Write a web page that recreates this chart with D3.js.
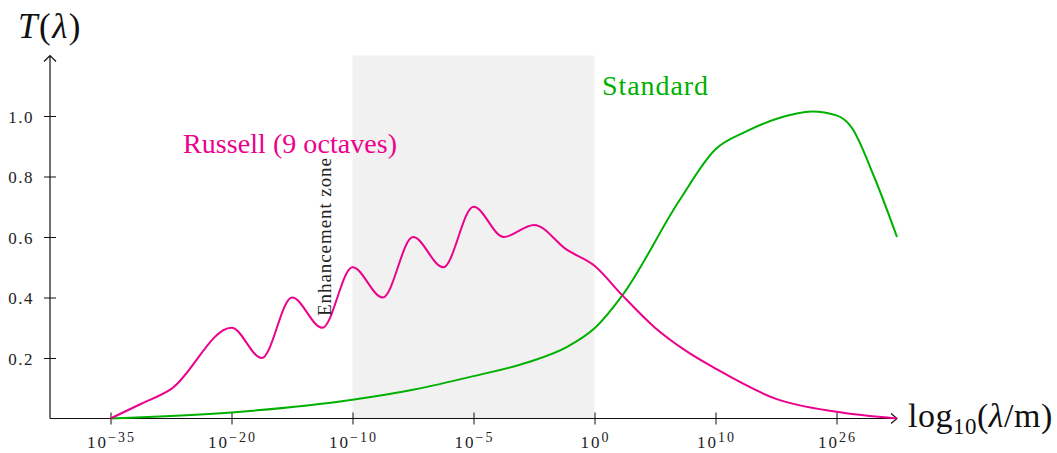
<!DOCTYPE html>
<html>
<head>
<meta charset="utf-8">
<script src="https://cdn.jsdelivr.net/npm/d3@7"></script>
<style>
  html, body { margin: 0; padding: 0; background: #fff; }
  svg { display: block; font-family: "Liberation Serif", serif; }
</style>
</head>
<body>
<svg id="chart" width="1057" height="453"></svg>
<script>
// x positions are the evenly spaced tick slots (0..6), labels below
const tickExponents = [-35, -20, -10, -5, 0, 10, 26];
const yTicks = [0.2, 0.4, 0.6, 0.8, 1.0];

// Russell (9 octaves): [slot, T]
const russell = [
  [0, 0], [0.25, 0.048], [0.5, 0.097], [1, 0.3], [1.25, 0.2], [1.5, 0.4],
  [1.75, 0.3], [2, 0.5], [2.25, 0.4], [2.5, 0.6], [2.75, 0.5], [3, 0.7],
  [3.25, 0.6], [3.5, 0.64], [3.77, 0.558], [4, 0.505], [4.23, 0.407],
  [4.5, 0.3], [4.75, 0.225], [5, 0.165], [5.5, 0.065], [6, 0.022], [6.5, 0]
];

// Standard: [slot, T]
const standard = [
  [0, 0], [1, 0.02], [2, 0.062], [2.5, 0.095], [3, 0.14], [3.45, 0.186],
  [3.77, 0.236], [4, 0.298], [4.23, 0.407], [4.7, 0.72],
  [5, 0.89], [5.25, 0.948], [5.5, 0.99], [5.8, 1.015], [6, 1.002],
  [6.12, 0.965], [6.31, 0.8], [6.5, 0.6]
];

// shaded "enhancement zone" in slot units
const zone = [2, 4];

const pink = '#ec008c';
const green = '#00b000';

const svg = d3.select('#chart');

const x = d3.scaleLinear().domain([0, 6]).range([110.5, 836.5]);
const y = d3.scaleLinear().domain([0, 1.2]).range([418.5, 55.5]);

const x0 = x(-0.5), x1 = x(6.5);
const y0 = y(0), y1 = y(1.2);

// Shaded zone
svg.append('rect')
  .attr('x', x(zone[0]))
  .attr('y', y1)
  .attr('width', x(zone[1]) - x(zone[0]))
  .attr('height', y0 - y1)
  .attr('fill', '#f1f1f1');

// X axis
const xAxis = svg.append('g')
  .attr('transform', `translate(0,${y0})`)
  .call(d3.axisBottom(x).tickValues(d3.range(tickExponents.length)).tickFormat('').tickSize(6));
xAxis.select('.domain').remove();
xAxis.selectAll('.tick line').attr('y1', -6).attr('y2', 6).attr('stroke', '#111');

const xl = svg.append('g').attr('fill', '#222');
tickExponents.forEach((e, i) => {
  const t = xl.append('text')
    .attr('x', x(i) + 1)
    .attr('y', 448)
    .attr('text-anchor', 'middle')
    .style('font-size', '17px')
    .style('letter-spacing', '2px');
  t.append('tspan').text('10');
  t.append('tspan')
    .attr('dy', -6)
    .style('font-size', '14px')
    .style('letter-spacing', '2px')
    .text(e < 0 ? '\u2212' + Math.abs(e) : String(e));
});

// Y axis
const yAxis = svg.append('g')
  .attr('transform', `translate(${x0},0)`)
  .call(d3.axisLeft(y).tickValues(yTicks).tickFormat(d3.format('.1f')).tickSize(6));
yAxis.select('.domain').remove();
yAxis.selectAll('.tick line').attr('x1', -6).attr('x2', 6).attr('stroke', '#111');
yAxis.selectAll('.tick text')
  .attr('x', -16)
  .attr('dy', '0.36em')
  .attr('fill', '#222')
  .style('font-family', '"Liberation Serif", serif')
  .style('font-size', '17px')
  .style('letter-spacing', '1.5px');

// axis lines with open arrow tips
svg.append('path')
  .attr('d', `M${x0},${y0}H${x1}M${x1 - 6},${y0 - 5}L${x1},${y0}L${x1 - 6},${y0 + 5}`)
  .attr('fill', 'none').attr('stroke', '#111').attr('stroke-width', 1.2);
svg.append('path')
  .attr('d', `M${x0},${y0}V${y1}M${x0 - 6},${y1 + 6}L${x0},${y1}L${x0 + 6},${y1 + 6}`)
  .attr('fill', 'none').attr('stroke', '#111').attr('stroke-width', 1.2);

// Curves
const line = d3.line()
  .x(d => x(d[0]))
  .y(d => y(d[1]))
  .curve(d3.curveMonotoneX);

svg.append('path')
  .datum(standard)
  .attr('fill', 'none')
  .attr('stroke', green)
  .attr('stroke-width', 2)
  .attr('d', line);

svg.append('path')
  .datum(russell)
  .attr('fill', 'none')
  .attr('stroke', pink)
  .attr('stroke-width', 2)
  .attr('d', line);

// Labels
const tl = svg.append('text')
  .attr('x', 18).attr('y', 38)
  .attr('fill', '#111')
  .style('font-size', '35px')
  .style('letter-spacing', '1.5px');
tl.append('tspan').style('font-style', 'italic').text('T');
tl.append('tspan').text('(');
tl.append('tspan').style('font-style', 'italic').text('\u03bb');
tl.append('tspan').text(')');

const xlab = svg.append('text')
  .attr('x', 908).attr('y', 427)
  .attr('fill', '#111')
  .style('font-size', '34px')
  .style('letter-spacing', '0.5px');
xlab.append('tspan').text('log');
xlab.append('tspan').attr('dy', 7).style('font-size', '23px').text('10');
xlab.append('tspan').attr('dy', -7).text('(');
xlab.append('tspan').style('font-style', 'italic').text('\u03bb');
xlab.append('tspan').text('/m)');

svg.append('text')
  .attr('x', 183).attr('y', 153)
  .attr('fill', pink)
  .attr('textLength', 214)
  .style('font-size', '28px')
  .text('Russell (9 octaves)');

svg.append('text')
  .attr('x', 602).attr('y', 95)
  .attr('fill', green)
  .attr('textLength', 106)
  .style('font-size', '28px')
  .text('Standard');

svg.append('text')
  .attr('transform', 'translate(331,316) rotate(-90)')
  .attr('fill', '#222')
  .attr('textLength', 158)
  .style('font-size', '19px')
  .text('Enhancement zone');
</script>
</body>
</html>
